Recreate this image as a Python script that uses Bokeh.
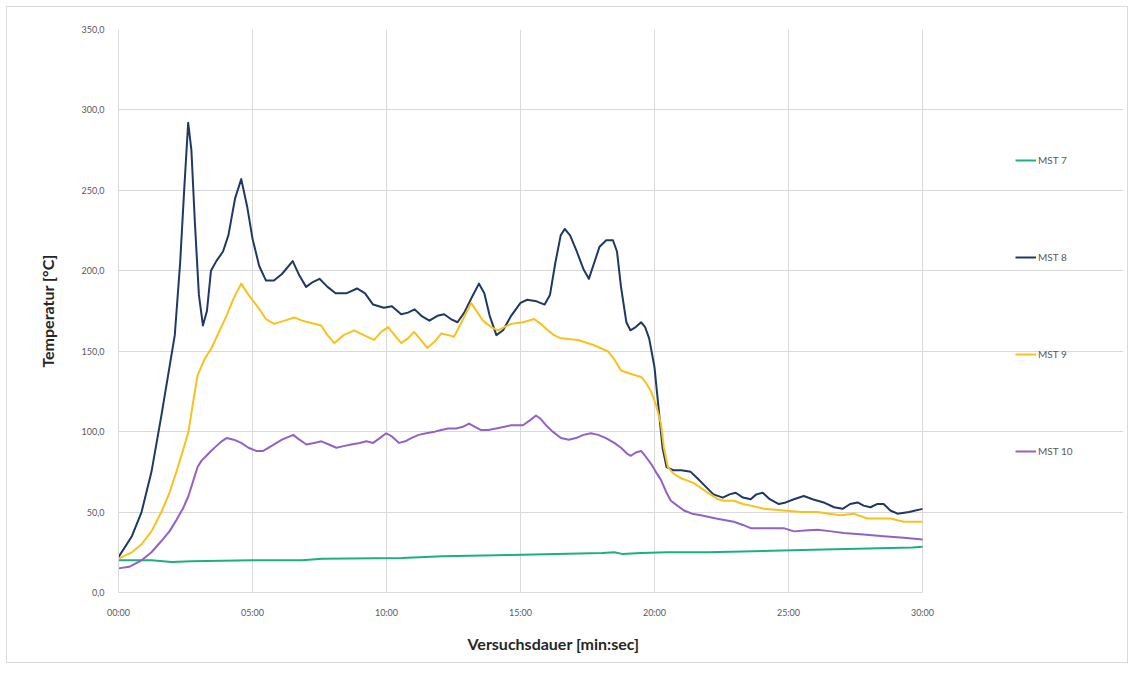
from bokeh.plotting import figure
from bokeh.models import Range1d, FixedTicker, Legend, LegendItem, Title
from bokeh.embed import file_html
from bokeh.resources import INLINE

# ---- data (time in minutes, temperature in °C) ----
series_names = ["MST 7", "MST 8", "MST 9", "MST 10"]

t7 = [0, 1.23, 1.98, 2.72, 4.99, 6.85, 7.6, 10.58, 12.08, 15.06, 18.04, 18.5, 18.79, 19.5, 20.5, 22.0, 25.9, 29.63, 30]
v7 = [20, 20, 19, 19.5, 20, 20, 21, 21.5, 22.5, 23.5, 24.5, 25, 24, 24.5, 25, 25, 26.5, 28, 28.5]

t8 = [0, 0.5, 0.86, 1.23, 1.6, 1.9, 2.1, 2.3, 2.45, 2.6,
      2.72, 2.85, 3.0, 3.15, 3.3, 3.45, 3.65, 3.9, 4.1, 4.35,
      4.58, 4.8, 5.0, 5.25, 5.5, 5.8, 6.1, 6.5, 6.75, 7.0,
      7.25, 7.5, 7.8, 8.1, 8.5, 8.9, 9.2, 9.5, 9.9, 10.2,
      10.55, 10.8, 11.05, 11.3, 11.6, 11.9, 12.15, 12.4, 12.65, 12.9,
      13.2, 13.45, 13.65, 13.85, 14.1, 14.35, 14.65, 15.0, 15.25, 15.6,
      15.9, 16.1, 16.3, 16.5, 16.65, 16.85, 17.1, 17.35, 17.55, 17.75,
      17.95, 18.2, 18.45, 18.6, 18.75, 18.95, 19.1, 19.3, 19.5, 19.65,
      19.8, 20.0, 20.15, 20.3, 20.45, 20.7, 21.0, 21.35, 21.6, 21.9,
      22.2, 22.55, 22.8, 23.03, 23.3, 23.59, 23.8, 24.04, 24.3, 24.64,
      24.9, 25.2, 25.57, 25.9, 26.31, 26.7, 27.02, 27.3, 27.58, 27.8,
      28.06, 28.3, 28.55, 28.8, 29.07, 29.5, 30]
v8 = [22, 35, 50, 75, 110, 140, 160, 205, 250, 292,
      275, 230, 185, 166, 175, 200, 206, 212, 222, 245,
      257, 240, 220, 203, 194, 194, 198, 206, 197, 190,
      193, 195, 190, 186, 186, 189, 186, 179, 177, 178,
      173, 174, 176, 172, 169, 172, 173, 170, 168, 174,
      184, 192, 186, 172, 160, 163, 172, 180, 182, 181,
      179, 185, 205, 222, 226, 222, 212, 201, 195, 205,
      215, 219, 219, 212, 190, 168, 163, 165, 168, 165,
      158, 140, 115, 90, 78, 76, 76, 75, 71, 66,
      61, 59, 61, 62, 59, 58, 61, 62, 58, 55,
      56, 58, 60, 58, 56, 53, 52, 55, 56, 54,
      53, 55, 55, 51, 49, 50, 52]

t9 = [0, 0.5, 0.86, 1.23, 1.6, 1.9, 2.16, 2.4, 2.61, 2.8,
      2.95, 3.21, 3.47, 3.75, 4.03, 4.3, 4.58, 4.85, 5.22, 5.5,
      5.81, 6.2, 6.56, 6.85, 7.08, 7.56, 7.8, 8.05, 8.4, 8.79,
      9.15, 9.54, 9.8, 10.06, 10.3, 10.55, 10.8, 11.03, 11.28, 11.52,
      11.8, 12.04, 12.3, 12.52, 12.8, 13.16, 13.4, 13.6, 13.9, 14.16,
      14.4, 14.65, 15.1, 15.51, 15.75, 16.02, 16.25, 16.51, 17.14, 17.7,
      18.26, 18.5, 18.75, 19.1, 19.5, 19.7, 19.87, 20.05, 20.24, 20.35,
      20.5, 20.7, 21.0, 21.47, 21.9, 22.36, 22.6, 22.96, 23.3, 23.59,
      24.08, 24.82, 25.5, 26.09, 26.5, 26.94, 27.43, 27.95, 28.4, 28.81,
      29.3, 30]
v9 = [21, 25, 30, 38, 50, 62, 75, 88, 100, 120,
      135, 145, 152, 162, 172, 183, 192, 185, 177, 170,
      167, 169, 171, 169, 168, 166, 160, 155, 160, 163,
      160, 157, 162, 165, 160, 155, 158, 162, 157, 152,
      156, 161, 160, 159, 168, 180, 174, 169, 165, 163,
      165, 167, 168, 170, 167, 163, 160, 158, 157, 154,
      150, 145, 138, 136, 134, 130, 125, 117, 105, 90,
      78, 74, 71, 68, 63, 58, 57, 57, 55, 54,
      52, 51, 50, 50, 49, 48, 49, 46, 46, 46,
      44, 44]

t10 = [0, 0.4, 0.86, 1.23, 1.6, 1.9, 2.16, 2.4, 2.61, 2.8,
       2.95, 3.1, 3.28, 3.45, 3.65, 3.85, 4.03, 4.3, 4.58, 4.85,
       5.14, 5.4, 5.7, 6.1, 6.52, 6.75, 7.01, 7.3, 7.57, 7.85,
       8.13, 8.4, 8.68, 9.0, 9.25, 9.5, 9.75, 9.99, 10.2, 10.47,
       10.7, 10.92, 11.2, 11.48, 11.8, 12.04, 12.3, 12.6, 12.85, 13.08,
       13.3, 13.53, 13.8, 14.09, 14.4, 14.65, 15.09, 15.35, 15.58, 15.75,
       15.95, 16.2, 16.51, 16.8, 17.07, 17.35, 17.63, 17.9, 18.19, 18.5,
       18.75, 19.0, 19.12, 19.3, 19.5, 19.65, 19.87, 20.05, 20.24, 20.45,
       20.61, 20.85, 21.1, 21.4, 21.73, 22.3, 22.96, 23.3, 23.59, 24.2,
       24.82, 25.2, 25.6, 26.09, 26.6, 27.06, 27.8, 28.55, 29.3, 30]
v10 = [15, 16, 20, 25, 32, 38, 45, 52, 60, 70,
       78, 82, 85, 88, 91, 94, 96, 95, 93, 90,
       88, 88, 91, 95, 98, 95, 92, 93, 94, 92,
       90, 91, 92, 93, 94, 93, 96, 99, 97, 93,
       94, 96, 98, 99, 100, 101, 102, 102, 103, 105,
       103, 101, 101, 102, 103, 104, 104, 107, 110, 108,
       104, 100, 96, 95, 96, 98, 99, 98, 96, 93,
       90, 86, 85, 87, 88, 85, 80, 75, 70, 62,
       57, 54, 51, 49, 48, 46, 44, 42, 40, 40,
       40, 38, 38.5, 39, 38, 37, 36, 35, 34, 33]

assert len(t7) == len(v7) and len(t8) == len(v8) and len(t9) == len(v9) and len(t10) == len(v10)

x_ticks = [0, 5, 10, 15, 20, 25, 30]
x_tick_labels = ["00:00", "05:00", "10:00", "15:00", "20:00", "25:00", "30:00"]
y_ticks = [0, 50, 100, 150, 200, 250, 300, 350]
y_tick_labels = ["0,0", "50,0", "100,0", "150,0", "200,0", "250,0", "300,0", "350,0"]

x_title = "Versuchsdauer [min:sec]"
y_title = "Temperatur [°C]"

colors = ["#1db07e", "#1f3864", "#f7c21c", "#9262c4"]

FONT = "Lato"
GRID = "#d9d9d9"
TXT = "#595959"

# The frame is widened past 30 min so the legend can sit inside it, to the right of the data
# area (axis and grid lines are bounded to 0..30).
X_END = 37.5

p = figure(width=1122, height=657, output_backend="svg", toolbar_location=None,
           x_range=Range1d(0, X_END), y_range=Range1d(0, 350),
           min_border_left=111, min_border_right=6, min_border_top=22, min_border_bottom=72)
p.styles = {"border": "1px solid #d9d9d9", "margin-left": "6px", "margin-top": "6px"}
p.outline_line_color = None
p.background_fill_color = "white"
p.border_fill_color = "white"

for ax, ticks, labels in ((p.xaxis[0], x_ticks, x_tick_labels), (p.yaxis[0], y_ticks, y_tick_labels)):
    ax.ticker = FixedTicker(ticks=ticks)
    ax.major_label_overrides = {t: l for t, l in zip(ticks, labels)}
    ax.major_tick_line_color = None
    ax.minor_tick_line_color = None
    ax.axis_line_color = GRID
    ax.major_label_text_font = FONT
    ax.major_label_text_font_size = "9px"
    ax.major_label_text_color = TXT
    ax.major_label_standoff = 8
    ax.axis_label_text_font = FONT
    ax.axis_label_text_font_size = "16px"
    ax.axis_label_text_font_style = "bold"
    ax.axis_label_text_color = "#262626"

p.xaxis.bounds = (x_ticks[0], x_ticks[-1])
p.yaxis.axis_label = y_title
p.yaxis.axis_label_standoff = 22

# x-axis title centred under the 0..30 data area (not the widened frame)
xt = Title(text=x_title, align="left", offset=349, standoff=22,
           text_font=FONT, text_font_size="16px", text_font_style="bold", text_color="#262626")
p.add_layout(xt, "below")

p.xgrid.ticker = FixedTicker(ticks=x_ticks)
p.ygrid.ticker = FixedTicker(ticks=y_ticks)
p.ygrid.bounds = (x_ticks[0], x_ticks[-1])
p.grid.grid_line_color = GRID
p.grid.grid_line_width = 1

renderers = []
for t, v, c in ((t7, v7, colors[0]), (t8, v8, colors[1]), (t9, v9, colors[2]), (t10, v10, colors[3])):
    r = p.line(t, v, line_color=c, line_width=2, line_join="round")
    renderers.append(r)

legend = Legend(items=[LegendItem(label=n, renderers=[r]) for n, r in zip(series_names, renderers)],
                location=(897, 131), orientation="vertical")
legend.glyph_width = 21
legend.glyph_height = 20
legend.label_height = 20
legend.spacing = 77
legend.padding = 0
legend.margin = 0
legend.label_standoff = 2
legend.border_line_color = None
legend.background_fill_alpha = 0
legend.label_text_font = FONT
legend.label_text_font_size = "10px"
legend.label_text_color = TXT
p.add_layout(legend, "center")

open("out.html", "w").write(file_html(p, INLINE))
